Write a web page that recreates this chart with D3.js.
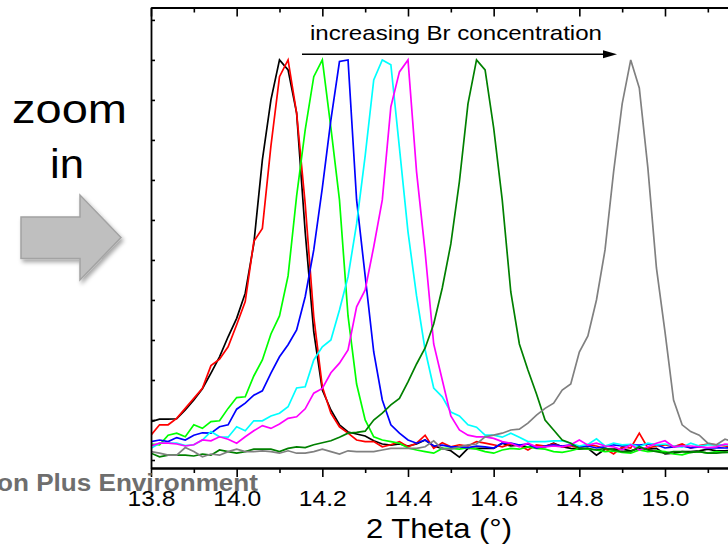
<!DOCTYPE html>
<html><head><meta charset="utf-8">
<script src="https://cdn.jsdelivr.net/npm/d3@7"></script>
<style>html,body{margin:0;padding:0;background:#fff;} svg{display:block;}</style>
</head><body>
<svg id="c" width="728" height="548"></svg>
<script>
// ---- data ----
const twoTheta = [13.80,13.82,13.84,13.86,13.88,13.90,13.92,13.94,13.96,13.98,
  14.00,14.02,14.04,14.06,14.08,14.10,14.12,14.14,14.16,14.18,
  14.20,14.22,14.24,14.26,14.28,14.30,14.32,14.34,14.36,14.38,
  14.40,14.42,14.44,14.46,14.48,14.50,14.52,14.54,14.56,14.58,
  14.60,14.62,14.64,14.66,14.68,14.70,14.72,14.74,14.76,14.78,
  14.80,14.82,14.84,14.86,14.88,14.90,14.92,14.94,14.96,14.98,
  15.00,15.02,15.04,15.06,15.08,15.10,15.12,15.14,15.16];
const sBlack = [96,102,102,103,125,150,178,217,258,308,
  354,417,540,750,900,1000,975,867,570,320,
  175,125,88,70,65,60,48,40,37,40,
  35,40,50,35,29,23,7,29,29,29,
  29,42,35,37,32,33,33,42,33,29,
  27,29,12,27,27,27,23,29,27,29,
  15,17,21,21,23,27,23,23,25];
const sRed = [62,88,88,104,129,154,179,236,252,283,
  338,396,546,579,785,958,1000,867,640,358,
  183,117,83,67,50,46,46,33,38,46,
  33,42,62,29,43,33,38,35,46,42,
  38,33,40,36,25,38,35,40,33,36,
  30,38,35,28,15,33,30,67,30,35,
  38,33,40,30,36,40,38,35,33];
const sLime = [40,38,62,67,58,88,79,96,98,129,
  156,158,210,250,315,360,460,660,825,958,
  1000,830,650,360,190,100,58,50,46,42,
  30,25,21,17,29,29,27,31,27,21,
  17,25,29,27,33,29,27,21,19,23,
  29,27,25,21,23,19,17,25,21,23,
  21,15,13,19,21,17,21,19,21];
const sBlue = [46,50,46,56,50,62,68,67,83,88,
  127,142,162,173,217,258,288,325,408,525,
  680,850,996,1000,650,460,270,150,88,67,
  50,42,50,35,37,33,33,31,35,33,
  30,42,42,37,40,30,35,38,35,38,
  33,35,30,33,38,35,38,37,40,38,
  30,33,35,30,33,30,31,30,31];
const sCyan = [29,42,42,42,36,38,50,71,58,57,
  83,73,98,98,110,117,133,180,183,250,
  283,300,375,458,590,760,950,1000,988,780,
  570,410,275,180,158,120,110,88,82,62,
  62,57,67,57,46,46,46,48,48,42,
  35,39,53,35,42,38,39,33,42,38,
  40,35,32,42,35,38,38,38,37];
const sMagenta = [35,42,42,40,35,38,50,48,58,52,
  42,58,73,86,79,90,104,108,128,167,
  179,218,242,275,383,425,533,650,883,970,
  1000,720,520,290,200,110,75,62,58,58,
  54,46,42,33,42,33,33,35,33,38,
  50,37,42,35,33,25,38,25,33,42,
  48,33,35,35,33,31,33,40,38];
const sDarkGreen = [17,8,12,12,12,10,15,12,25,21,
  17,21,27,27,27,21,29,33,31,38,
  43,48,57,67,69,72,100,117,138,154,
  195,240,280,340,430,540,696,890,1000,975,
  830,650,420,290,225,165,100,75,50,42,
  29,29,25,29,25,21,21,33,25,21,
  17,21,21,19,21,17,17,19,19];
const sGray = [21,17,12,12,31,21,8,15,12,21,
  27,21,21,23,21,17,23,17,17,21,
  27,21,15,23,21,21,21,25,29,29,
  29,29,33,48,27,27,33,38,40,58,
  62,67,75,77,92,112,129,142,175,190,
  270,310,400,525,720,890,1000,930,730,480,
  320,150,88,71,62,42,38,52,45];
const seriesValues = [sBlack, sRed, sLime, sBlue, sCyan, sMagenta, sDarkGreen, sGray];
const seriesColors = ["#000000","#ff0000","#00ff00","#0000ff","#00ffff","#ff00ff","#008000","#808080"];
const xMajorTicks = [13.8,14.0,14.2,14.4,14.6,14.8,15.0];
const xMinorTicks = [13.9,14.1,14.3,14.5,14.7,14.9,15.1];
const yTicks = [0,100,200,300,400,500,600,700,800,900,1000,1100];
const xTitle = "2 Theta (\u00B0)";
const annotationText = "increasing Br concentration";
const sideWords = ["zoom","in"];
const footerText = "on Plus Environment";

// ---- drawing ----
(function(){
const svg = d3.select("#c");
svg.append("rect").attr("width",728).attr("height",548).attr("fill","#fff");
const FONT = "'Liberation Sans', Arial, Helvetica, sans-serif";
const pL = 151, pR = 728, pT = 7.5, pB = 468;
const x = d3.scaleLinear().domain([13.8, 15.2]).range([pL, pL + 1.4*428.33]);
const y = d3.scaleLinear().domain([-20, 1131]).range([pB, pT]);

const defs = svg.append("defs");
const f = defs.append("filter").attr("id","sh").attr("x","-20%").attr("y","-20%").attr("width","150%").attr("height","150%");
f.append("feDropShadow").attr("dx",2).attr("dy",3).attr("stdDeviation",2).attr("flood-color","#000").attr("flood-opacity",0.35);
defs.append("clipPath").attr("id","plot").append("rect")
  .attr("x",pL).attr("y",pT).attr("width",pR-pL).attr("height",pB-pT);

svg.append("text").text(sideWords[0]).attr("x",12).attr("y",123)
  .attr("font-family",FONT).attr("font-size",40)
  .attr("textLength",115).attr("lengthAdjust","spacingAndGlyphs").attr("fill","#000");
svg.append("text").text(sideWords[1]).attr("x",50).attr("y",178)
  .attr("font-family",FONT).attr("font-size",41)
  .attr("textLength",34).attr("lengthAdjust","spacingAndGlyphs").attr("fill","#000");
svg.append("polygon")
  .attr("points","21,217 80,217 80,195 121,237.5 80,280 80,258.5 21,258.5")
  .attr("fill","#bfbfbf").attr("stroke","#a3a3a3").attr("stroke-width",1.5)
  .attr("filter","url(#sh)");

const line = d3.line().x((d,i)=>x(twoTheta[i])).y(d=>y(d));
const g = svg.append("g").attr("clip-path","url(#plot)");
seriesValues.forEach((vals,k)=>{
  g.append("path").datum(vals).attr("d",line).attr("fill","none")
   .attr("stroke",seriesColors[k]).attr("stroke-width",1.7).attr("stroke-linejoin","miter");
});

svg.append("g").attr("transform",`translate(0,${pB})`)
  .call(d3.axisBottom(x).tickValues(xMinorTicks).tickSizeInner(5).tickSizeOuter(0).tickFormat(""));
const bMajor = svg.append("g").attr("transform",`translate(0,${pB})`)
  .call(d3.axisBottom(x).tickValues(xMajorTicks).tickSizeInner(9).tickSizeOuter(0).tickPadding(8).tickFormat(d3.format(".1f")));
bMajor.selectAll("text").attr("font-family",FONT).attr("font-size",22).attr("fill","#000")
  .attr("transform","scale(1.12,1)").attr("dy","0.95em");
svg.append("g").attr("transform",`translate(0,${pT})`)
  .call(d3.axisTop(x).tickValues(xMinorTicks).tickSizeInner(-5).tickSizeOuter(0).tickFormat(""));
svg.append("g").attr("transform",`translate(0,${pT})`)
  .call(d3.axisTop(x).tickValues(xMajorTicks).tickSizeInner(-9).tickSizeOuter(0).tickFormat(""));
svg.append("g").attr("transform",`translate(${pL},0)`)
  .call(d3.axisLeft(y).tickValues(yTicks).tickSizeInner(-4).tickSizeOuter(0).tickFormat(""));
svg.selectAll(".domain").attr("stroke","#000").attr("stroke-width",1.8);
svg.selectAll(".tick line").attr("stroke","#000").attr("stroke-width",1.6);

svg.append("text").text(xTitle).attr("x",439).attr("y",538).attr("text-anchor","middle")
  .attr("font-family",FONT).attr("font-size",28).attr("fill","#000")
  .attr("textLength",146).attr("lengthAdjust","spacingAndGlyphs");

svg.append("line").attr("x1",302).attr("x2",606).attr("y1",54.3).attr("y2",54.3)
  .attr("stroke","#000").attr("stroke-width",1.6);
svg.append("polygon").attr("points","603,50.3 617,54.3 603,58.3").attr("fill","#000");
svg.append("text").text(annotationText).attr("x",310).attr("y",40)
  .attr("font-family",FONT).attr("font-size",21).attr("fill","#000")
  .attr("textLength",292).attr("lengthAdjust","spacingAndGlyphs");

svg.append("text").text(footerText).attr("x",-3).attr("y",491)
  .attr("font-family",FONT).attr("font-size",23).attr("font-weight","bold").attr("fill","#6e6e6e")
  .attr("textLength",261).attr("lengthAdjust","spacingAndGlyphs");
})();
</script>
</body></html>
